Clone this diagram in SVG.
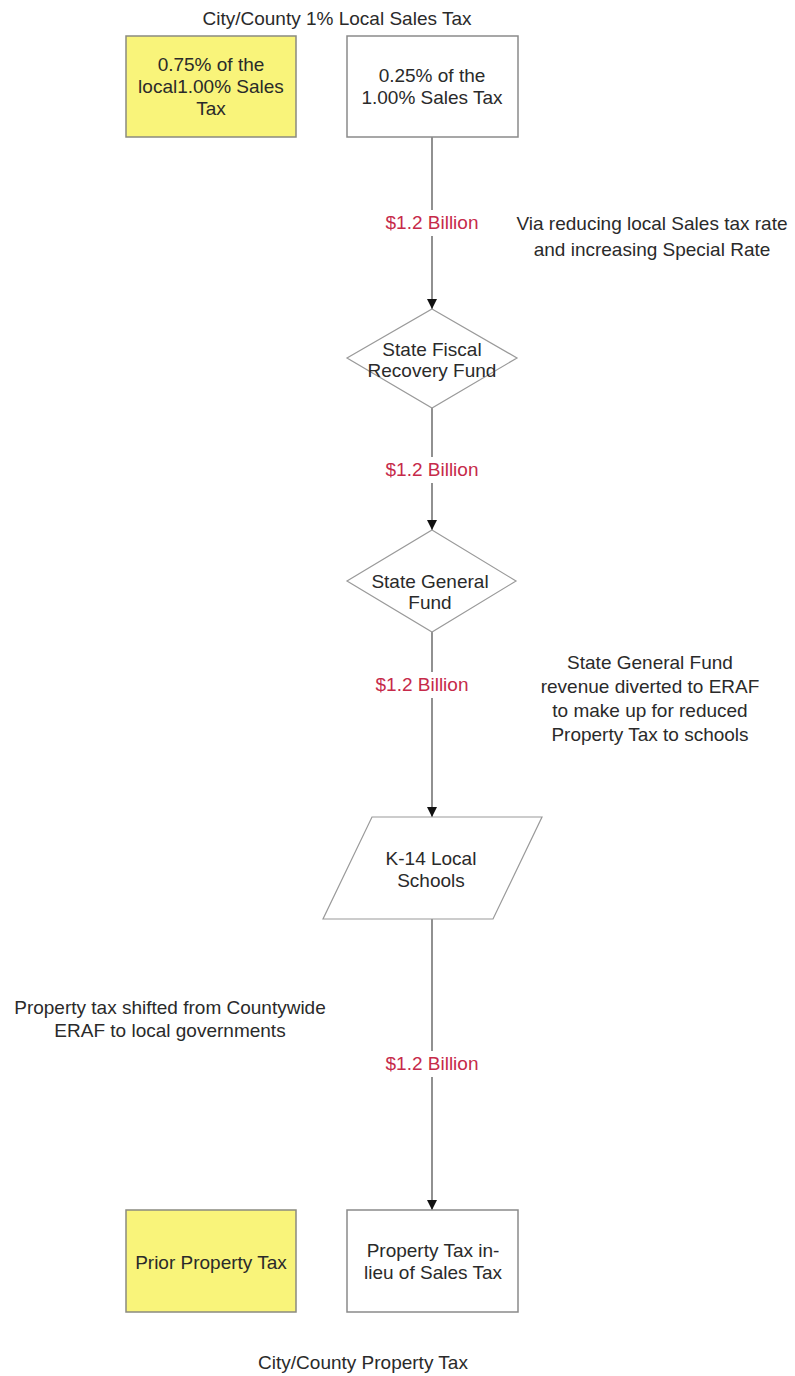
<svg xmlns="http://www.w3.org/2000/svg" width="795" height="1376" viewBox="0 0 795 1376">
<style>
text{font-family:"Liberation Sans",Arial,sans-serif;font-size:19px;fill:#2a2a2a;text-anchor:middle}
.lbl{fill:#c62a4a}
.box{fill:#ffffff;stroke:#8a8a8a;stroke-width:1.5}
.yel{fill:#f9f47a;stroke:#8a8a80;stroke-width:1.5}
.shape{fill:#ffffff;stroke:#9a9a9a;stroke-width:1.2}
.conn{stroke:#555;stroke-width:1.3;fill:none;marker-end:url(#arr)}
.bg{fill:#ffffff}
</style>
<defs>
<marker id="arr" viewBox="0 0 10 10" refX="10" refY="5" markerWidth="10" markerHeight="10" markerUnits="userSpaceOnUse" orient="auto">
<path d="M0,0 L10,5 L0,10 z" fill="#111"/>
</marker>
</defs>
<rect width="795" height="1376" fill="#ffffff"/>

<text x="337" y="25">City/County 1% Local Sales Tax</text>

<g id="connectors">
<line class="conn" x1="432" y1="137" x2="432" y2="309"/>
<line class="conn" x1="432" y1="408" x2="432" y2="530"/>
<line class="conn" x1="432" y1="632" x2="432" y2="817"/>
<line class="conn" x1="432" y1="919" x2="432" y2="1210"/>
<rect class="bg" x="384" y="210" width="96" height="26"/>
<text class="lbl" x="432" y="229">$1.2 Billion</text>
<rect class="bg" x="384" y="457" width="96" height="26"/>
<text class="lbl" x="432" y="476">$1.2 Billion</text>
<rect class="bg" x="374" y="672" width="96" height="26"/>
<text class="lbl" x="422" y="691">$1.2 Billion</text>
<rect class="bg" x="384" y="1051" width="96" height="26"/>
<text class="lbl" x="432" y="1070">$1.2 Billion</text>
</g>

<g id="n-075">
<rect class="yel" x="126" y="36" width="170" height="101"/>
<text x="211" y="71">0.75% of the</text>
<text x="211" y="93">local1.00% Sales</text>
<text x="211" y="115">Tax</text>
</g>

<g id="n-025">
<rect class="box" x="347" y="36" width="171" height="101"/>
<text x="432" y="82">0.25% of the</text>
<text x="432" y="104">1.00% Sales Tax</text>
</g>

<g id="n-fiscal">
<polygon class="shape" points="432,309 517,358 432,408 347,358"/>
<text x="432" y="356">State Fiscal</text>
<text x="432" y="377">Recovery Fund</text>
</g>

<g id="n-general">
<polygon class="shape" points="432,530 516,581 432,632 347,581"/>
<text x="430" y="588">State General</text>
<text x="430" y="609">Fund</text>
</g>

<g id="n-schools">
<polygon class="shape" points="372,817 542,817 493,919 323,919"/>
<text x="431" y="865">K-14 Local</text>
<text x="431" y="887">Schools</text>
</g>

<g id="n-prior">
<rect class="yel" x="126" y="1210" width="170" height="102"/>
<text x="211" y="1269">Prior Property Tax</text>
</g>

<g id="n-inlieu">
<rect class="box" x="347" y="1210" width="171" height="102"/>
<text x="433" y="1257">Property Tax in-</text>
<text x="433" y="1279">lieu of Sales Tax</text>
</g>

<text x="363" y="1369">City/County Property Tax</text>

<g id="notes">
<text x="652" y="230">Via reducing local Sales tax rate</text>
<text x="652" y="256">and increasing Special Rate</text>
<text x="650" y="669">State General Fund</text>
<text x="650" y="693">revenue diverted to ERAF</text>
<text x="650" y="717">to make up for reduced</text>
<text x="650" y="741">Property Tax to schools</text>
<text x="170" y="1014">Property tax shifted from Countywide</text>
<text x="170" y="1037">ERAF to local governments</text>
</g>
</svg>
